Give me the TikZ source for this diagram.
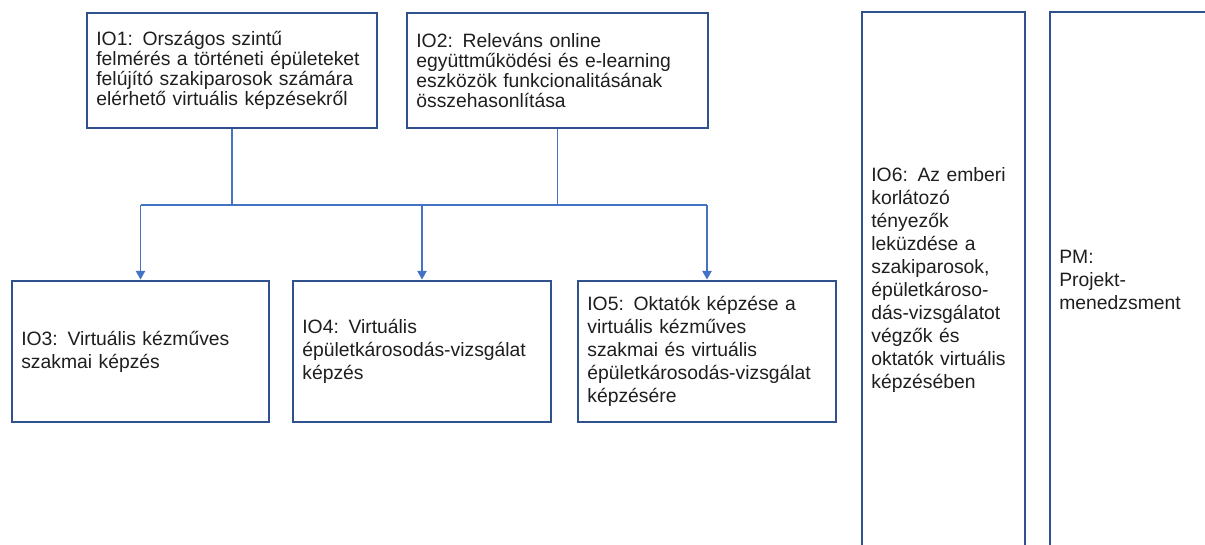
\documentclass[tikz,border=0pt]{standalone}
\usepackage{fontspec}
\setmainfont{Liberation Sans}
\usetikzlibrary{arrows.meta}
\definecolor{boxblue}{RGB}{47,82,143}
\definecolor{linkblue}{RGB}{68,114,196}
\definecolor{inkgrey}{RGB}{30,30,30}

\begin{document}
\begin{tikzpicture}[x=0.75pt,y=-0.75pt,
	box/.style={draw=boxblue,line width=2.2pt,inner xsep=7pt,inner ysep=0pt,align=left,text=inkgrey,font=\fontsize{14.5}{17.25}\selectfont},
	topbox/.style={box,font=\fontsize{14.5}{15}\selectfont},
	link/.style={draw=linkblue,line width=1pt},
	tip/.style={link,-{Triangle[width=7pt,length=6.5pt]}}]

	\path[use as bounding box,clip](0,0) rectangle (1205,544);

	% top row
	\node[topbox,text width=203.5pt,minimum height=86.25pt] (io1) at (232,70.5){IO1: Országos szintű\\felmérés a történeti épületeket\\felújító szakiparosok számára\\elérhető virtuális képzésekről};
	\node[topbox,text width=211.75pt,minimum height=86.25pt] (io2) at (557.5,70.5){IO2: Releváns online\\együttműködési és e-learning\\eszközök funkcionalitásának\\összehasonlítása};

	% bottom row
	\node[box,text width=178.75pt,minimum height=105.75pt] (io3) at (140.5,351.5){IO3: Virtuális kézműves\\szakmai képzés};
	\node[box,text width=179.5pt,minimum height=105.75pt] (io4) at (422,351.5){IO4: Virtuális\\épületkárosodás-vizsgálat\\képzés};
	\node[box,text width=179.5pt,minimum height=105.75pt] (io5) at (707,351.5){IO5: Oktatók képzése a\\virtuális kézműves\\szakmai és virtuális\\épületkárosodás-vizsgálat\\képzésére};

	% tall boxes
	\node[box,text width=108.25pt,minimum height=402pt] (io6) at (943.5,280){IO6: Az emberi\\korlátozó\\tényezők\\leküzdése a\\szakiparosok,\\épületkároso-\\dás-vizsgálatot\\végzők és\\oktatók virtuális\\képzésében};
	\node[box,text width=108.25pt,minimum height=402pt] (pm) at (1131.5,280){PM:\\Projekt-\\menedzsment};

	% connectors
	\coordinate (split) at (0,205);
	\draw[link](io1.south)--(io1.south|-split);
	\draw[link](io2.south)--(io2.south|-split);
	\draw[link](io3.north|-split)--(io5.north|-split);
	\draw[tip](io3.north|-split)--(io3.north);
	\draw[tip](io4.north|-split)--(io4.north);
	\draw[tip](io5.north|-split)--(io5.north);

\end{tikzpicture}
\end{document}
